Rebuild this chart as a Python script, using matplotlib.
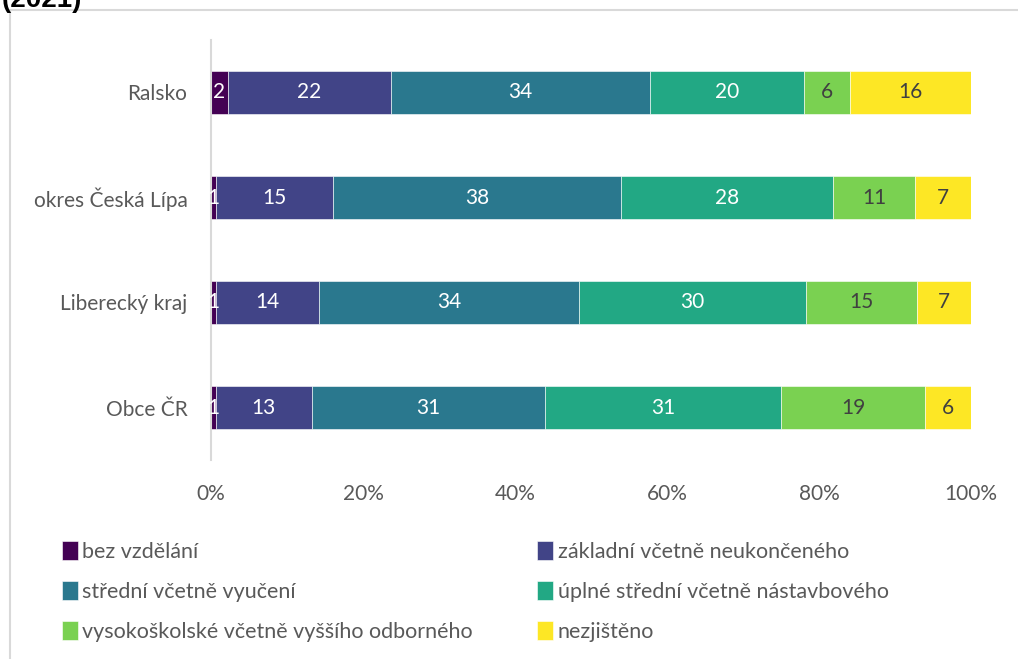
import numpy as np
import matplotlib.pyplot as plt
from matplotlib.patches import Rectangle

plt.rcParams['font.family'] = ['Lato', 'DejaVu Sans']

# regions, top to bottom
regions = ["Ralsko", "okres Česká Lípa", "Liberecký kraj", "Obce ČR"]

categories = [
    "bez vzdělání",
    "základní včetně neukončeného",
    "střední včetně vyučení",
    "úplné střední včetně nástavbového",
    "vysokoškolské včetně vyššího odborného",
    "nezjištěno",
]

# shares in %
bez = [2.2, 0.7, 0.6, 0.6]
zakladni = [21.5, 15.4, 13.6, 12.7]
stredni = [34.1, 37.9, 34.2, 30.6]
uplne = [20.2, 27.9, 29.9, 31.1]
vysoko = [6.1, 10.7, 14.6, 19.0]
nezjisteno = [15.9, 7.4, 7.1, 6.0]

tick_vals = [0, 20, 40, 60, 80, 100]
tick_labels = ["0%", "20%", "40%", "60%", "80%", "100%"]

colors = ["#440154", "#414487", "#2A788E", "#22A884", "#7AD151", "#FDE725"]
label_colors = ["white", "white", "white", "white", "#404040", "#404040"]

series = [bez, zakladni, stredni, uplne, vysoko, nezjisteno]

fig = plt.figure(figsize=(10.18, 6.59), dpi=100)
ax = fig.add_axes([211 / 1018, 1 - 460 / 659, 760 / 1018, 420 / 659])

y = np.arange(len(regions))
left = np.zeros(len(regions))
handles = []
for vals, col, lcol, name in zip(series, colors, label_colors, categories):
    vals = np.array(vals)
    bars = ax.barh(y, vals, left=left, height=0.41, color=col,
                   edgecolor="white", linewidth=0.4, label=name)
    handles.append(bars)
    for yi, l, v in zip(y, left, vals):
        ax.text(l + v / 2, yi, f"{v:.0f}", ha="center", va="center",
                color=lcol, fontsize=15)
    left = left + vals

ax.set_xlim(0, 100)
ax.set_ylim(len(regions) - 0.5, -0.5)
ax.set_yticks(y)
ax.set_yticklabels(regions)
ax.set_xticks(tick_vals)
ax.set_xticklabels(tick_labels)
ax.tick_params(axis="both", length=0, labelsize=15, labelcolor="#595959")
ax.tick_params(axis="y", pad=17)
ax.tick_params(axis="x", pad=17)
for s in ["top", "right", "bottom"]:
    ax.spines[s].set_visible(False)
ax.spines["left"].set_color("#D9D9D9")
ax.spines["left"].set_linewidth(1.5)

# legend: rows of two, matplotlib fills by column
order = [0, 2, 4, 1, 3, 5]
leg = fig.legend([handles[i] for i in order], [categories[i] for i in order],
                 ncol=2, loc="upper left", bbox_to_anchor=(0.052, 0.192),
                 frameon=False, fontsize=15.5, handlelength=0.75,
                 handleheight=1.0, handletextpad=0.2, columnspacing=3.0,
                 labelspacing=0.88, borderaxespad=0)
for t in leg.get_texts():
    t.set_color("#595959")

# chart frame (only top and left edges inside the picture)
fig.add_artist(Rectangle((10 / 1018, -0.05), 1.1, 1 - 10 / 659 + 0.05,
                         transform=fig.transFigure, fill=False,
                         edgecolor="#D9D9D9", linewidth=1.5))

fig.text(0.002, 1 - 7 / 659, "(2021)", fontsize=20, fontweight="bold",
         family=["Liberation Sans", "DejaVu Sans"], va="baseline", ha="left")

fig.savefig("out.png", dpi=100)
